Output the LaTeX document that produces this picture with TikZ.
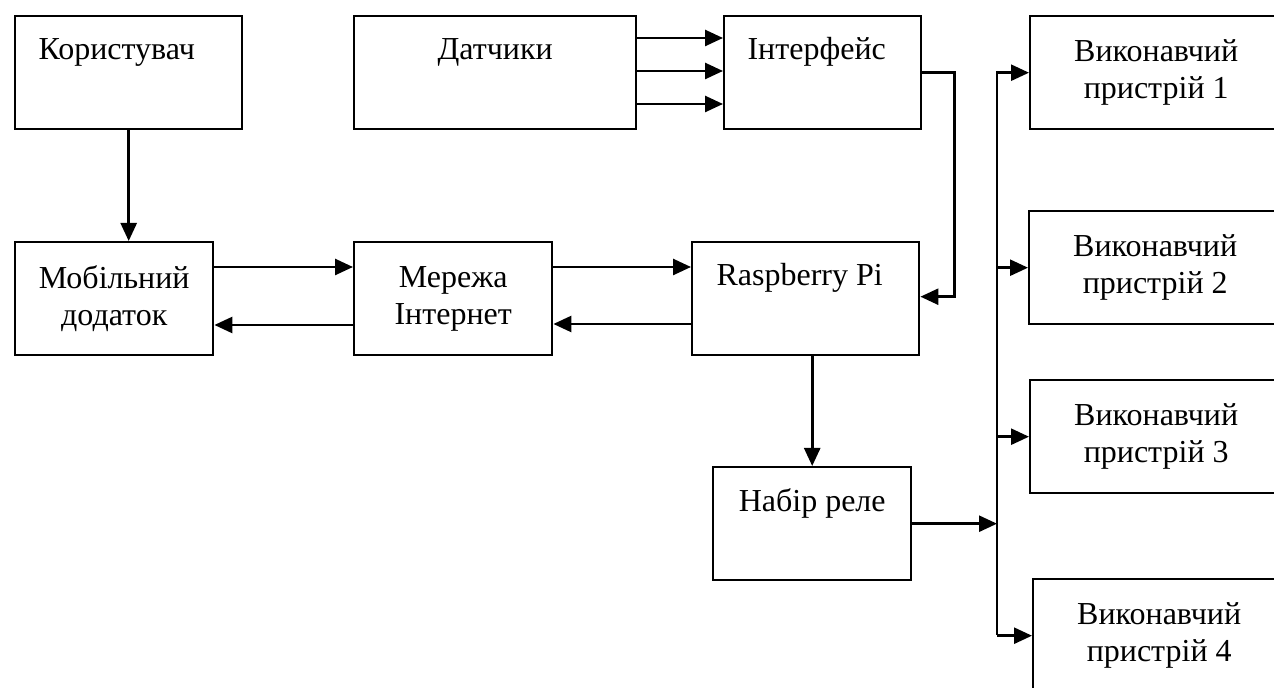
\documentclass[tikz,border=0pt]{standalone}
\usepackage{fontspec}
\setmainfont{Liberation Serif}
\usetikzlibrary{arrows.meta}
\tikzset{
  blok/.style={draw, line width=1.2pt, anchor=north west, inner sep=0pt, align=center,
    minimum height=56.5pt, font=\fontsize{16}{18.5}\selectfont},
  arr/.style={line width=1.3pt, -{Triangle[length=9pt,width=8pt]}}
}
\begin{document}
\begin{tikzpicture}[x=0.5pt, y=-0.5pt]
            \clip (0,0) rectangle (1274,688);
            % top row
            \node[blok, minimum width=113.5pt] (koryst) at (14,15) {Користувач\hspace*{12pt}\\\strut};
            \node[blok, minimum width=141pt] (datch) at (353,15) {Датчики\\\strut};
            \node[blok, minimum width=98.5pt] (interf) at (723,15) {Інтерфейс\hspace*{6pt}\\\strut};
            % middle row
            \node[blok, minimum width=99pt] (mob) at (14,241) {Мобільний\\додаток};
            \node[blok, minimum width=99pt] (merezha) at (353,241) {Мережа\\Інтернет};
            \node[blok, minimum width=113.5pt] (rpi) at (691,241) {Raspberry Pi\hspace*{6pt}\\\strut};
            \node[blok, minimum width=99pt] (rele) at (712,466) {Набір реле\\\strut};
            % executive devices
            \node[blok, minimum width=126pt] (dev1) at (1029,15) {Виконавчий\\пристрій 1};
            \node[blok, minimum width=126pt] (dev2) at (1028,210) {Виконавчий\\пристрій 2};
            \node[blok, minimum width=126pt] (dev3) at (1029,379) {Виконавчий\\пристрій 3};
            \node[blok, minimum width=126pt] (dev4) at (1032,578) {Виконавчий\\пристрій 4};

            \draw[arr] (koryst.south) -- (koryst.south |- mob.north);
            \draw[arr] ([yshift=-13pt]mob.north east) -- ([yshift=-13pt]merezha.north west);
            \draw[arr] ([yshift=-42pt]merezha.north west) -- ([yshift=-42pt]mob.north east);
            \draw[arr] ([yshift=-13pt]merezha.north east) -- ([yshift=-13pt]rpi.north west);
            \draw[arr] ([yshift=-41.5pt]rpi.north west) -- ([yshift=-41.5pt]merezha.north east);
            \foreach \d in {11.5,28,44.5}{
                \draw[arr] ([yshift=-\d pt]datch.north east) -- ([yshift=-\d pt]interf.north west);
            }
            \coordinate (ir) at ([xshift=16pt]interf.east);
            \draw[arr] (interf.east) -- (ir) |- ([yshift=1pt]rpi.east);
            \draw[arr] (rele.north |- rpi.south) -- (rele.north);
            % bus to the devices
            \coordinate (bustop) at (997,71);
            \coordinate (busbot) at (997,635);
            \draw[line width=1.3pt] (bustop) -- (busbot);
            \draw[arr] (rele.east) -- (rele.east -| bustop);
            \foreach \n in {dev1,dev2,dev3,dev4}{
                \draw[arr] (\n.west -| bustop) -- (\n.west);
            }
        \end{tikzpicture}
\end{document}
